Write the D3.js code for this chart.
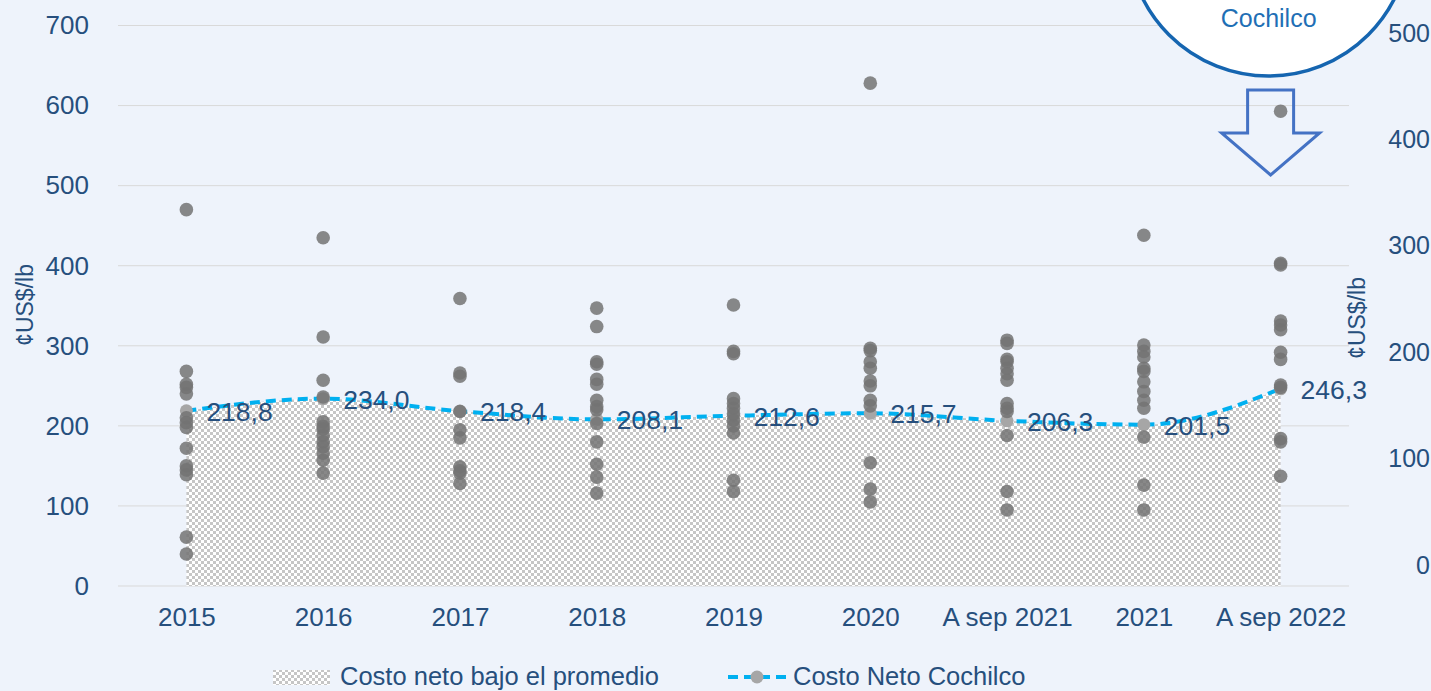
<!DOCTYPE html>
<html>
<head>
<meta charset="utf-8">
<script src="https://cdn.jsdelivr.net/npm/d3@7"></script>
<style>
  body { margin: 0; background: #eef3fb; }
  svg { display: block; font-family: "Liberation Sans", Arial, sans-serif; }
</style>
</head>
<body>
<svg id="chart" width="1431" height="691"></svg>
<script>
// categories and values
var categories = ["2015", "2016", "2017", "2018", "2019", "2020", "A sep 2021", "2021", "A sep 2022"];
var avgCost = [218.8, 234.0, 218.4, 208.1, 212.6, 215.7, 206.3, 201.5, 246.3];

// individual mine costs, one list per category
var mines2015 = [470, 268, 252, 248, 240, 210, 204, 198, 172, 150, 145, 139, 61, 40];
var mines2016 = [435, 311, 257, 236, 205, 199, 196, 188, 180, 174, 166, 157, 141];
var mines2017 = [359, 266, 262, 218, 195, 185, 149, 144, 141, 128];
var mines2018 = [347, 324, 280, 277, 258, 252, 232, 224, 220, 203, 180, 152, 136, 116];
var mines2019 = [351, 293, 290, 234, 228, 222, 215, 207, 200, 191, 132, 118];
var mines2020 = [628, 297, 294, 280, 272, 256, 250, 232, 225, 154, 121, 105];
var minesSep2021 = [307, 303, 283, 280, 272, 265, 257, 228, 222, 218, 188, 118, 95];
var mines2021 = [438, 301, 293, 286, 272, 268, 255, 243, 232, 222, 186, 126, 95];
var minesSep2022 = [593, 403, 401, 331, 326, 320, 292, 283, 251, 248, 184, 180, 137];

var leftTicks = [0, 100, 200, 300, 400, 500, 600, 700];
var rightTicks = [0, 100, 200, 300, 400, 500];
var axisTitle = "¢US$/lb";
var legendArea = "Costo neto bajo el promedio";
var legendLine = "Costo Neto Cochilco";
var bubbleText = "Cochilco";

var mineLists = [mines2015, mines2016, mines2017, mines2018, mines2019, mines2020, minesSep2021, mines2021, minesSep2022];

var textColor = "#264f7d";
var svg = d3.select("#chart");

var x = d3.scalePoint().domain(categories).range([118, 1349]).padding(0.5);
var y = d3.scaleLinear().domain([0, 700]).range([586, 25.5]);
var y2 = d3.scaleLinear().domain([0, 500]).range([565, 33]);

// checker pattern for the area
var defs = svg.append("defs");
var pat = defs.append("pattern").attr("id", "checker")
    .attr("width", 6).attr("height", 6).attr("patternUnits", "userSpaceOnUse");
pat.append("rect").attr("width", 6).attr("height", 6).attr("fill", "#ffffff");
pat.append("rect").attr("width", 3).attr("height", 3).attr("fill", "#c6c6c6");
pat.append("rect").attr("x", 3).attr("y", 3).attr("width", 3).attr("height", 3).attr("fill", "#c6c6c6");

// gridlines
svg.append("g").selectAll("line").data(leftTicks).join("line")
    .attr("x1", 118).attr("x2", 1349)
    .attr("y1", d => y(d)).attr("y2", d => y(d))
    .attr("stroke", "#d9d9d9").attr("stroke-width", 1);

// left axis
var leftAxis = svg.append("g").attr("transform", "translate(89,0)")
    .call(d3.axisLeft(y).tickValues(leftTicks).tickSize(0).tickPadding(0));
leftAxis.select(".domain").remove();
leftAxis.selectAll("text").attr("fill", textColor).attr("font-size", 26)
    .attr("font-family", "Liberation Sans, Arial, sans-serif");

// right axis
var rightAxis = svg.append("g").attr("transform", "translate(1430,0)")
    .call(d3.axisLeft(y2).tickValues(rightTicks).tickSize(0).tickPadding(0));
rightAxis.select(".domain").remove();
rightAxis.selectAll("text").attr("fill", textColor).attr("font-size", 25)
    .attr("font-family", "Liberation Sans, Arial, sans-serif");

// x axis
var xAxis = svg.append("g").attr("transform", "translate(0,600)")
    .call(d3.axisBottom(x).tickSize(0).tickPadding(8));
xAxis.select(".domain").remove();
xAxis.selectAll("text").attr("fill", textColor).attr("font-size", 26)
    .attr("font-family", "Liberation Sans, Arial, sans-serif");

// axis titles
svg.append("text").attr("transform", "translate(33,305) rotate(-90)")
    .attr("text-anchor", "middle").attr("fill", textColor).attr("font-size", 23)
    .text(axisTitle);
svg.append("text").attr("transform", "translate(1365,318) rotate(-90)")
    .attr("text-anchor", "middle").attr("fill", textColor).attr("font-size", 23)
    .text(axisTitle);

// area and line
var pts = categories.map((c, i) => ({ c: c, v: avgCost[i] }));
var area = d3.area().x(d => x(d.c)).y0(y(0)).y1(d => y(d.v)).curve(d3.curveMonotoneX);
var line = d3.line().x(d => x(d.c)).y(d => y(d.v)).curve(d3.curveMonotoneX);

svg.append("path").datum(pts).attr("d", area).attr("fill", "url(#checker)");

// mine dots
var dots = [];
mineLists.forEach(function(list, i) {
    list.forEach(function(v) { dots.push({ c: categories[i], v: v }); });
});

svg.append("path").datum(pts).attr("d", line)
    .attr("fill", "none").attr("stroke", "#00b0f0").attr("stroke-width", 4)
    .attr("stroke-dasharray", "10,6");

svg.append("g").selectAll("circle").data(pts).join("circle")
    .attr("cx", d => x(d.c)).attr("cy", d => y(d.v)).attr("r", 6.5)
    .attr("fill", "#a6a6a6");

svg.append("g").selectAll("circle").data(dots).join("circle")
    .attr("cx", d => x(d.c)).attr("cy", d => y(d.v)).attr("r", 6.8)
    .attr("fill", "#737373").attr("fill-opacity", 0.85);

// value labels
svg.append("g").selectAll("text").data(pts).join("text")
    .attr("x", d => x(d.c) + 20).attr("y", d => y(d.v) + 3)
    .attr("dominant-baseline", "middle")
    .attr("fill", textColor).attr("font-size", 26.5)
    .text(d => d3.format(".1f")(d.v).replace(".", ","));

// callout bubble and arrow
var lastX = x(categories[categories.length - 1]);
svg.append("circle").attr("cx", lastX - 12).attr("cy", -65).attr("r", 141)
    .attr("fill", "#ffffff").attr("stroke", "#1565b0").attr("stroke-width", 3.5);
svg.append("text").attr("x", lastX - 12).attr("y", 27).attr("text-anchor", "middle")
    .attr("fill", "#1f6fb5").attr("font-size", 25).text(bubbleText);

var arrow = [[-23, 90], [23, 90], [23, 133], [49, 133], [0, 175], [-49, 133], [-23, 133]];
svg.append("polygon")
    .attr("points", arrow.map(p => [lastX - 10 + p[0], p[1]].join(",")).join(" "))
    .attr("fill", "none").attr("stroke", "#4472c4").attr("stroke-width", 3);

// legend
var lg = svg.append("g");
lg.append("rect").attr("x", 273).attr("y", 670).attr("width", 57).attr("height", 15)
    .attr("fill", "url(#checker)");
lg.append("text").attr("x", 340).attr("y", 685).attr("fill", textColor)
    .attr("font-size", 25.5).text(legendArea);
lg.append("line").attr("x1", 728).attr("x2", 790).attr("y1", 677).attr("y2", 677)
    .attr("stroke", "#00b0f0").attr("stroke-width", 4).attr("stroke-dasharray", "10,6");
lg.append("circle").attr("cx", 757).attr("cy", 677).attr("r", 6.5).attr("fill", "#a6a6a6");
lg.append("text").attr("x", 793).attr("y", 685).attr("fill", textColor)
    .attr("font-size", 25.5).text(legendLine);
</script>
</body>
</html>
